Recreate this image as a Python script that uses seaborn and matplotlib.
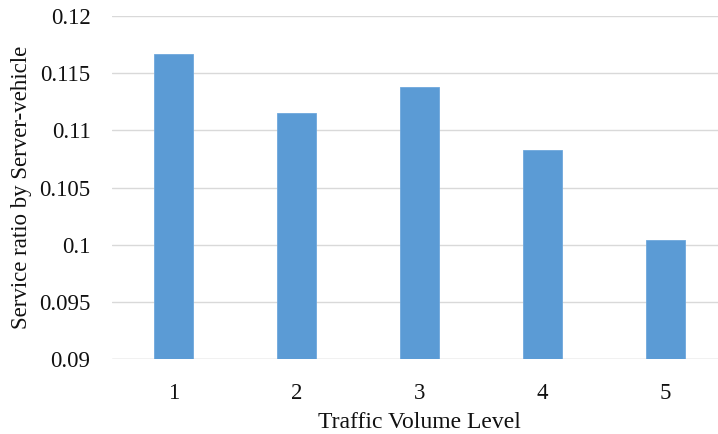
import matplotlib
matplotlib.use("Agg")
import matplotlib.pyplot as plt
import seaborn as sns
import pandas as pd

# Data
levels = ["1", "2", "3", "4", "5"]
service_ratio = [0.1167, 0.1115, 0.1138, 0.1083, 0.1004]
y_ticks = [0.09, 0.095, 0.10, 0.105, 0.11, 0.115, 0.12]
y_tick_labels = ["0.09", "0.095", "0.1", "0.105", "0.11", "0.115", "0.12"]

sns.set_theme(style="white")
plt.rcParams["font.family"] = ["Liberation Serif", "DejaVu Serif"]

df = pd.DataFrame({"level": levels, "ratio": service_ratio})

W, H = 718, 434
fig = plt.figure(figsize=(W / 100, H / 100), dpi=100)
ax = fig.add_axes([112 / W, (H - 359.3) / H, (718 - 112) / W, (359.3 - 16) / H])

sns.barplot(data=df, x="level", y="ratio", color="#5B9BD5", saturation=1,
            width=0.317, ax=ax, zorder=3, edgecolor="#6FA8DC", linewidth=0.6)

ax.set_ylim(0.09, 0.12)
ax.set_xlim(-0.5, 4.427)
ax.set_yticks(y_ticks)
ax.set_yticklabels(y_tick_labels)

ax.grid(axis="y", color="#D9D9D9", linewidth=1.0, zorder=0)
ax.grid(axis="x", visible=False)
for side in ["top", "right", "left", "bottom"]:
    ax.spines[side].set_visible(False)
ax.axhline(0.09, color="#D9D9D9", linewidth=1.0, zorder=1)

ax.tick_params(axis="y", length=0, pad=15.5, labelsize=16.5, labelcolor="#111111")
ax.tick_params(axis="x", length=0, pad=17, labelsize=16.5, labelcolor="#111111")

ax.set_xlabel("Traffic Volume Level", fontsize=17, labelpad=6, color="#111111")
ax.xaxis.label.set_x((419 - 112) / (718 - 112))
ax.set_ylabel("Service ratio by Server-vehicle", fontsize=16.5, labelpad=5, color="#111111")

fig.savefig("out.png", dpi=100, facecolor="white")
